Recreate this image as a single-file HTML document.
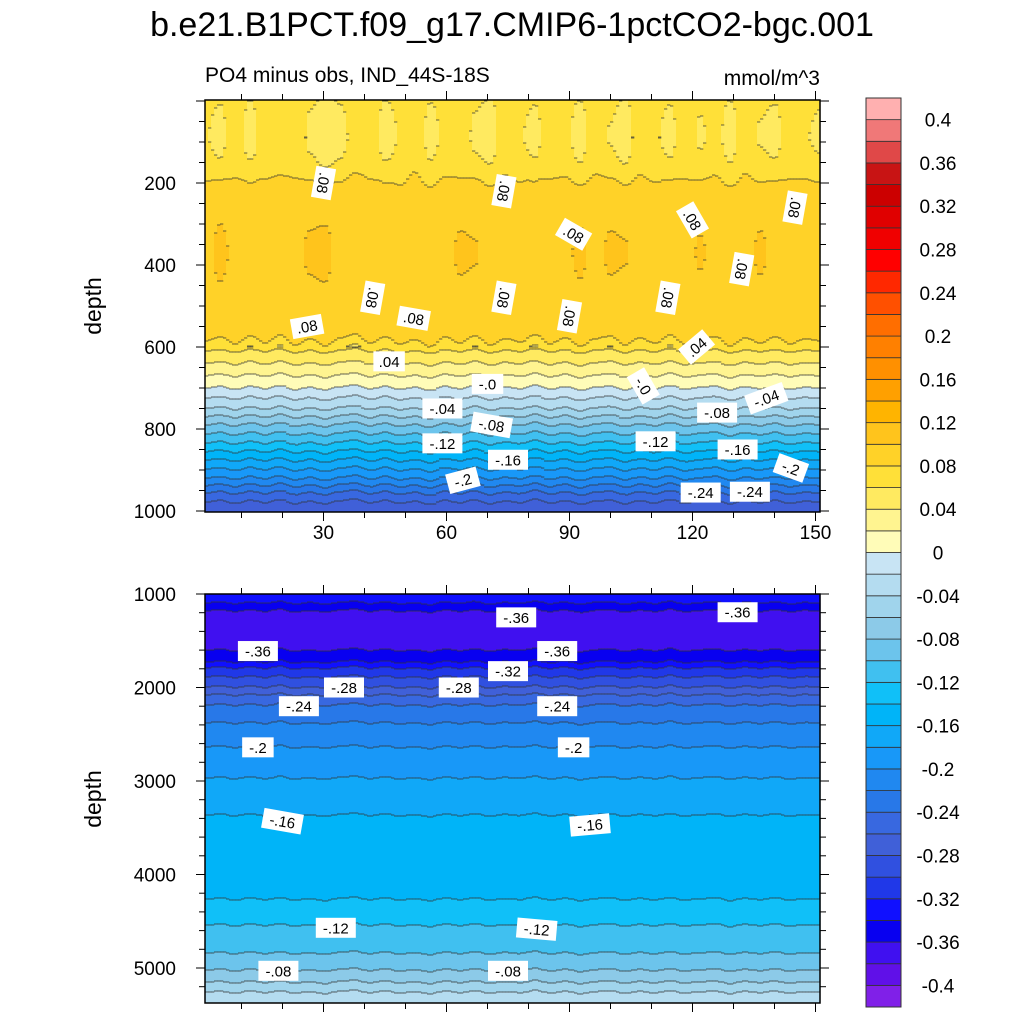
<!DOCTYPE html>
<html><head><meta charset="utf-8">
<style>
html,body{margin:0;padding:0;background:#fff;}
svg{display:block;font-family:"Liberation Sans",sans-serif;}
</style></head>
<body>
<svg id="chart" width="1024" height="1024" viewBox="0 0 1024 1024" xmlns="http://www.w3.org/2000/svg">
<text x="512" y="36" text-anchor="middle" font-size="34">b.e21.B1PCT.f09_g17.CMIP6-1pctCO2-bgc.001</text>
<text x="205" y="82" font-size="21">PO4 minus obs, IND_44S-18S</text>
<text x="820" y="85" text-anchor="end" font-size="21">mmol/m^3</text>
<text transform="translate(101,306) rotate(-90)" text-anchor="middle" font-size="23">depth</text>
<text transform="translate(101,799) rotate(-90)" text-anchor="middle" font-size="23">depth</text>
<g id="topPanel"></g>
<g id="botPanel"></g>
<g id="colorbar"></g>
</svg>
<script>
// ---- data ----
const levelColors = ["#8020e8","#6010e8","#4010f0","#0800f0","#1010ff","#2038e8","#3050e0","#4060d8","#3868e0","#2878e8","#2088f0","#1898f8","#10a8f8","#00b4f8","#10c0f8","#40c0f0","#6cc4ec","#8ccae8","#a0d4ec","#b4dcf0","#c8e4f4",
 "#fffcb8","#fff490","#ffea60","#ffe038","#ffd228","#ffc41c","#ffb400","#ffa000","#ff9000","#ff8000","#ff6e00","#ff5000","#ff2800","#ff0000","#f00000","#e00000","#cc0000","#c81414","#e04848","#f07878","#ffb0b0"];
const colorbarLabels = ["0.4","0.36","0.32","0.28","0.24","0.2","0.16","0.12","0.08","0.04","0","-0.04","-0.08","-0.12","-0.16","-0.2","-0.24","-0.28","-0.32","-0.36","-0.4"];
const topDepths = [0,150,200,300,450,560,585,610,640,670,700,750,790,834,876,920,956,1000];
const topVals = [0.066,0.07,0.083,0.09,0.09,0.087,0.08,0.06,0.04,0.02,0,-0.04,-0.08,-0.12,-0.16,-0.2,-0.24,-0.28];
const botDepths = [1000,1096,1182,1406,1600,1728,1792,1888,1995,2080,2188,2380,2637,2969,3365,3803,4264,4542,4841,5023,5152,5259,5376];
const botVals = [-0.33,-0.34,-0.36,-0.379,-0.36,-0.34,-0.32,-0.30,-0.28,-0.26,-0.24,-0.22,-0.20,-0.18,-0.16,-0.15,-0.14,-0.12,-0.10,-0.08,-0.06,-0.04,-0.03];
const wiggle = [0,8,-6,10,-4,12,-8,4,-10,6,14,-5,9,-7,3,-12,8,-4,11,-9,5,-3,13,-6,7,-11,4,10,-8,6,-5,12,-7,3,9,-10,6,-4,8,-6,4,0];
const streakUpper = [-0.006,-0.012,0.004,-0.014,0.002,-0.004,0.006,-0.010,-0.016,-0.012,-0.002,0.004,-0.014,-0.006,0.006,-0.012,-0.004,0.003,-0.010,-0.014,0.002,-0.006,-0.012,0.004,-0.004,-0.013,0.003,-0.008,-0.014,0.001,-0.005,-0.012,0.004,-0.009,-0.002,-0.013,0.002,-0.008,-0.012,0.003,-0.006,-0.010];
const streakMid = [0.004,0.016,0.006,-0.002,0.004,0.002,0.006,0.014,0.016,0.004,-0.004,-0.006,0.002,-0.004,0.004,0.002,0.004,0.014,0.012,0.002,-0.002,0.004,-0.002,0.002,0.006,0.015,0.004,0.014,0.012,0.002,0.004,0.006,0.002,0.013,0.004,0.002,0.004,0.014,0.006,0.002,0.004,0.003];
const xTicks = [30,60,90,120,150];
const topLabels = [[30,200,".08",100],[74,220,".08",100],[91,325,".08",30],[120,290,".08",60],[145,260,".08",100],[132,410,".08",100],[42,480,".08",100],[74,480,".08",100],[90,525,".08",100],[114,480,".08",100],[26,550,".08",-10],[52,530,".08",10],[46,635,".04",0],[121,600,".04",-40],[70,690,"-.0",0],[108,695,"-.0",60],[59,750,"-.04",0],[138,725,"-.04",-20],[71,790,"-.08",10],[126,760,"-.08",0],[59,835,"-.12",0],[111,830,"-.12",0],[75,875,"-.16",0],[131,850,"-.16",0],[64,925,"-.2",-15],[144,895,"-.2",20],[122,955,"-.24",0],[134,953,"-.24",0]];
const botLabels = [[77,1250,"-.36",0],[131,1195,"-.36",0],[14,1610,"-.36",0],[87,1610,"-.36",0],[75,1825,"-.32",0],[35,2000,"-.28",0],[63,2000,"-.28",0],[24,2200,"-.24",0],[87,2200,"-.24",0],[14,2640,"-.2",0],[91,2640,"-.2",0],[20,3430,"-.16",10],[95,3470,"-.16",-5],[33,4570,"-.12",0],[82,4585,"-.12",5],[19,5030,"-.08",0],[75,5030,"-.08",0]];

// ---- helpers ----
const NS = "http://www.w3.org/2000/svg";
function mk(tag, attrs, parent){const e=document.createElementNS(NS,tag);for(const k in attrs)e.setAttribute(k,attrs[k]);parent.appendChild(e);return e;}
function xScale(v){return 200.5 + v*4.1;}
const PX0=205, PX1=820;
const topY = d => 101 + d*0.41;
const botY = d => 594 + (d-1000)*0.0935;
function interp(xs, ys, x){
  if(x<=xs[0]) return ys[0];
  for(let i=1;i<xs.length;i++){ if(x<=xs[i]){const t=(x-xs[i-1])/(xs[i]-xs[i-1]);return ys[i-1]+t*(ys[i]-ys[i-1]);} }
  return ys[ys.length-1];
}
function arrAt(arr, px){ const f=(px-PX0)/(PX1-PX0)*(arr.length-1); const i=Math.max(0,Math.min(arr.length-2,Math.floor(f))); let t=f-i; t=t*t*(3-2*t); return arr[i]*(1-t)+arr[i+1]*t; }
function levelIdx(v){ return Math.max(0,Math.min(levelColors.length-1,Math.floor((v+0.42)/0.02+1e-9))); }

function drawPanel(g, y0, y1, depthOf, valueAt){
  const colW=3;
  const lines=[];
  for(let x=PX0;x<PX1;x+=colW){
    const w=Math.min(colW,PX1-x);
    let runStart=y0, cur=null;
    for(let y=y0;y<=y1;y++){
      const idx = y<y1 ? levelIdx(valueAt(x+w/2, depthOf(y+0.5))) : -1;
      if(cur===null){cur=idx;continue;}
      if(idx!==cur){
        const r=mk("rect",{x:x,y:runStart,width:w+0.6,height:y-runStart,fill:levelColors[cur]},g);
        
        
        if(idx!==-1) lines.push([x,y,w]);
        runStart=y;cur=idx;
      }
    }
  }
  for(const [x,y,w] of lines){
    const l=mk("rect",{x:x,y:y-0.5,width:w+0.3,height:1,fill:"#333",opacity:"0.75"},g);
    
    
  }
  mk("rect",{x:PX0,y:y0,width:PX1-PX0,height:y1-y0,fill:"none",stroke:"#000","stroke-width":1.5},g);
}

function drawLabels(g, list, yOf){
  for(const [xv,d,t,rot] of list){
    const cx=xScale(xv), cy=yOf(d);
    const grp=mk("g",{transform:`translate(${cx},${cy}) rotate(${rot})`},g);
    
    
    const w=t.length*8.5+6;
    mk("rect",{x:-w/2,y:-10,width:w,height:20,fill:"#fff"},grp);
    const tx=mk("text",{x:0,y:5.5,"text-anchor":"middle","font-size":15},grp);
    tx.textContent=t;
  }
}

function drawXTicks(g, y, dir){
  for(let v=10;v<=150;v+=10){
    const major = v%30===0;
    const len = major?9:6;
    const x=xScale(v);
    const t=mk("line",{x1:x,x2:x,y1:y,y2:y+dir*len,stroke:"#000","stroke-width":1},g);
    
    
  }
}
function drawYTicks(g, from, to, step, majorStep, yOf){
  for(let d=from; d<=to; d+=step){
    const y=yOf(d);
    const major=d%majorStep===0;
    const len=major?9:6;
    for(const [x,dir] of [[PX0,-1],[PX1,1]]){
      const t=mk("line",{x1:x,x2:x+dir*len,y1:y,y2:y,stroke:"#000","stroke-width":1},g);
      
      
    }
  }
}

// ---- top panel ----
const gTop=document.getElementById("topPanel");
drawPanel(gTop,100,512,y=>(y-101)/0.41,(x,d)=>{
  const wg=arrAt(wiggle,x);
  let v=interp(topDepths,topVals,d+wg*(d<600?1.2:0.5));
  const su=arrAt(streakUpper,x), sm=arrAt(streakMid,x);
  const wu=Math.max(0,1-Math.abs(d-90)/140);
  const wm=Math.max(0,1-Math.abs(d-370)/190);
  v+=su*wu*1.3+sm*wm;
  return v;
});
drawLabels(gTop,topLabels,topY);
drawXTicks(gTop,100,-1); drawXTicks(gTop,512,1);
drawYTicks(gTop,0,1000,50,200,topY);
[200,400,600,800,1000].forEach(d=>{
  const t=mk("text",{x:176,y:topY(d)+7,"text-anchor":"end","font-size":19},gTop);
  
  
  t.textContent=d;
});
xTicks.forEach(v=>{
  const t=mk("text",{x:xScale(v),y:539,"text-anchor":"middle","font-size":19},gTop);
  
  
  t.textContent=v;
});

// ---- bottom panel ----
const gBot=document.getElementById("botPanel");
drawPanel(gBot,594,1003,y=>1000+(y-594)/0.0935,(x,d)=>{
  const wg=arrAt(wiggle,x);
  return interp(botDepths,botVals,d+wg*1.5);
});
drawLabels(gBot,botLabels,botY);
drawXTicks(gBot,594,-1); drawXTicks(gBot,1003,1);
drawYTicks(gBot,1000,5200,200,1000,botY);
[1000,2000,3000,4000,5000].forEach(d=>{
  const t=mk("text",{x:176,y:botY(d)+7,"text-anchor":"end","font-size":19},gBot);
  
  
  t.textContent=d;
});

// ---- colorbar ----
const gCb=document.getElementById("colorbar");
const cbTop=98, cbBot=1007, cbX=866, cbW=35;
const boxH=(cbBot-cbTop)/levelColors.length;
levelColors.forEach((c,i)=>{
  const y=cbBot-(i+1)*boxH;
  const r=mk("rect",{x:cbX,y:y,width:cbW,height:boxH,fill:c,stroke:"#333","stroke-width":0.8},gCb);
  
  
});
mk("rect",{x:cbX,y:cbTop,width:cbW,height:cbBot-cbTop,fill:"none",stroke:"#333","stroke-width":1},gCb);
colorbarLabels.forEach((lab,i)=>{
  const y=cbTop+boxH*(1+2*i);
  const t=mk("text",{x:938,y:y+7,"text-anchor":"middle","font-size":19},gCb);
  
  
  t.textContent=lab;
});
</script>
</body></html>
